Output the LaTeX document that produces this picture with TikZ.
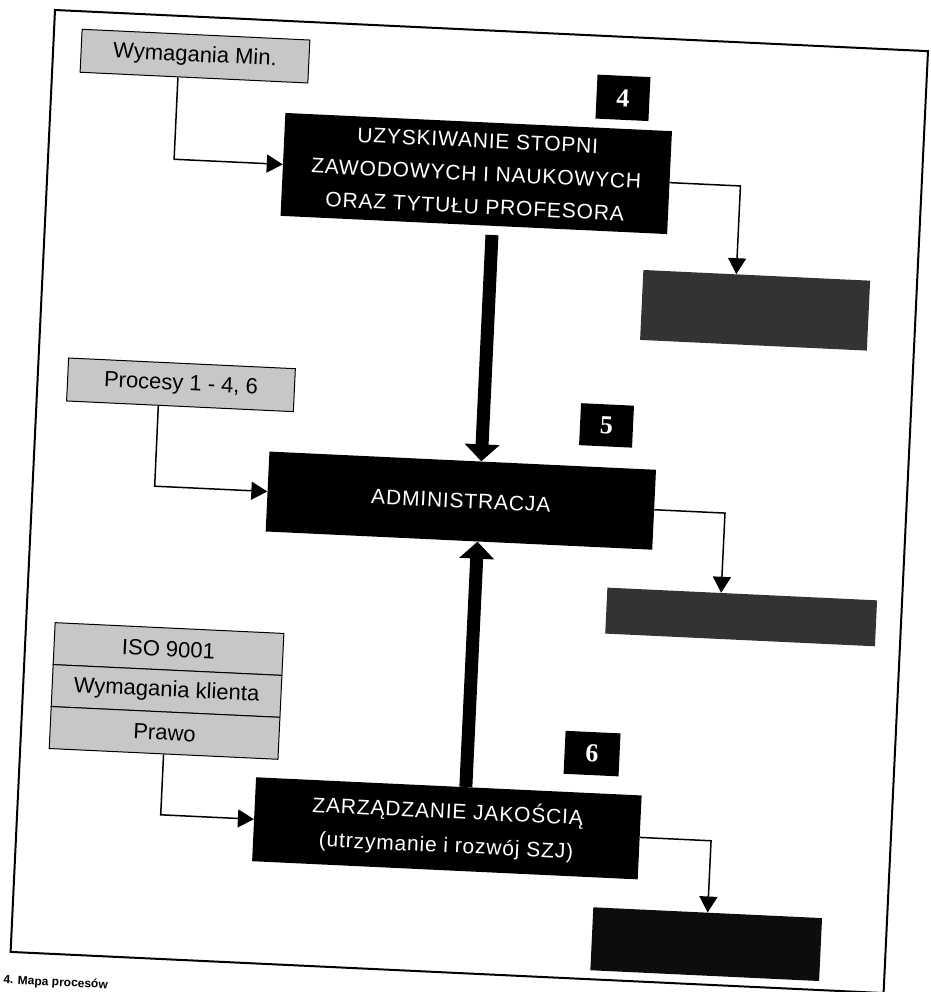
\documentclass[tikz,border=0pt]{standalone}
\usepackage{fontspec}
\setmainfont{Liberation Sans}
\newfontfamily\numfont{Liberation Serif}
\newfontfamily\boxfont[LetterSpace=4]{Liberation Sans}
\usetikzlibrary{arrows.meta,calc}
\tikzset{
  inbox/.style={draw=black, line width=1pt, fill=black!22, minimum width=228pt,
    minimum height=43pt, inner sep=0pt, text=black,
    font=\fontsize{22}{24}\selectfont},
  procbox/.style={fill=black, text=white, inner sep=0pt, minimum width=387pt,
    align=center, font=\boxfont\fontsize{21}{33}\selectfont},
  numbox/.style={fill=black, text=white, minimum width=53pt, minimum height=44pt,
    inner sep=0pt, font=\numfont\bfseries\fontsize{26}{26}\selectfont},
  outbox/.style={inner sep=0pt, draw=none},
  conn/.style={line width=1.5pt, -{Triangle[length=16pt,width=18pt]}},
  bigarrow/.style={line width=13pt, -{Triangle[length=17pt,width=34pt]}},
  frameline/.style={line width=2pt}
}
\begin{document}
\begin{tikzpicture}
\useasboundingbox (0,0) rectangle (930pt,-992pt);
\clip (0,0) rectangle (930pt,-992pt);
\begin{scope}[shift={(55pt,-10pt)}, rotate=-2.7, x=1pt, y=-1pt, transform shape]
  % outer frame
  \draw[frameline] (0,0) rectangle (874,943);

  % inputs
  \node[inbox] (min) at (142,39.5) {Wymagania Min.};
  \node[inbox, minimum width=227pt] (proc) at (143.5,368.5) {Procesy 1 - 4, 6};
  \node[inbox, minimum width=229pt, minimum height=42pt] (iso) at (143.5,633) {ISO 9001};
  \node[inbox, minimum width=229pt, minimum height=42pt] (klient) at (143.5,675) {Wymagania klienta};
  \node[inbox, minimum width=229pt, minimum height=42pt] (prawo) at (143.5,717) {Prawo};

  % process boxes
  \node[procbox, minimum height=103pt] (p4) at (428.5,143.5)
    {UZYSKIWANIE STOPNI\\ZAWODOWYCH I NAUKOWYCH\\ORAZ TYTUŁU PROFESORA};
  \node[procbox, minimum height=80pt] (p5) at (428.5,471) {ADMINISTRACJA};
  \node[procbox, minimum width=386pt, minimum height=84pt,
    font=\boxfont\fontsize{21}{34}\selectfont] (p6) at (430,799)
    {ZARZĄDZANIE JAKOŚCIĄ\\(utrzymanie i rozwój SZJ)};

  % numbers
  \node[numbox] (n4) at (571.5,61) {4};
  \node[numbox, minimum height=42pt] (n5) at (570.5,389) {5};
  \node[numbox, minimum width=55pt, minimum height=43pt] (n6) at (571.5,717.5) {6};

  % outputs
  \node[outbox, fill=black!80, minimum width=227pt, minimum height=70pt] (o4) at (713.5,267) {};
  \node[outbox, fill=black!80, minimum width=270pt, minimum height=46pt] (o5) at (714,574) {};
  \node[outbox, fill=black!95, minimum width=229pt, minimum height=63pt] (o6) at (694.5,902.5) {};

  % bend points
  \coordinate (b1) at (126,143.5);
  \coordinate (b2) at (693,143.5);
  \coordinate (b3) at (122,471);
  \coordinate (b4) at (693,471);
  \coordinate (b5) at (143.5,799);
  \coordinate (b6) at (694.5,799);

  % thin connectors
  \draw[conn] ($(min.south west)!0.43!(min.south east)$) -- (b1) -- (p4.west);
  \draw[conn] (p4.east) -- (b2) -- ($(o4.north west)!0.41!(o4.north east)$);
  \draw[conn] ($(proc.south west)!0.405!(proc.south east)$) -- (b3) -- (p5.west);
  \draw[conn] (p5.east) -- (b4) -- ($(o5.north west)!0.422!(o5.north east)$);
  \draw[conn] (prawo.south) -- (b5) -- (p6.west);
  \draw[conn] (p6.east) -- (b6) -- (o6.north);

  % thick arrows
  \draw[bigarrow, shorten <=9pt] ($(p4.south west)!0.548!(p4.south east)$) --
    ($(p5.north west)!0.548!(p5.north east)$);
  \draw[bigarrow] ($(p6.north west)!0.544!(p6.north east)$) --
    ($(p5.south west)!0.548!(p5.south east)$);

  % caption
  \node[anchor=north west, inner sep=0pt, font=\bfseries\fontsize{12}{12}\selectfont]
    (cap) at (-6,966) {4. Mapa procesów};
\end{scope}
\end{tikzpicture}
\end{document}
